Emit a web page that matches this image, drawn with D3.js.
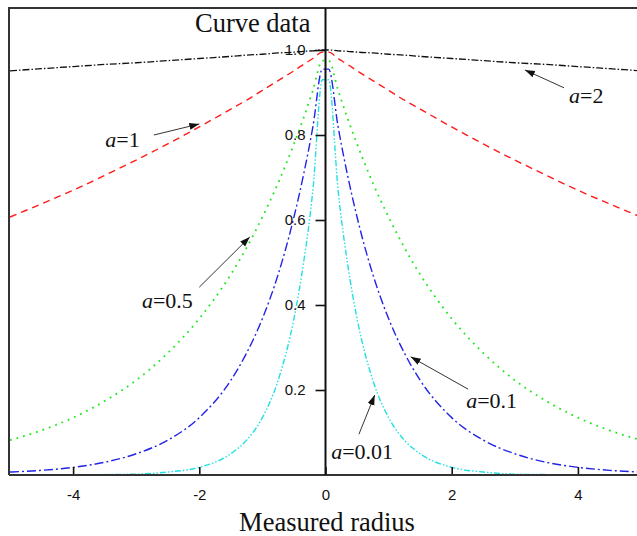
<!DOCTYPE html>
<html>
<head>
<meta charset="utf-8">
<script src="https://cdn.jsdelivr.net/npm/d3@7"></script>
<style>
  html, body { margin: 0; padding: 0; background: #fff; }
  .title { font-family: "Liberation Serif", "Times New Roman", serif; font-size: 26.5px; fill: #111; }
  .note { font-family: "Liberation Serif", "Times New Roman", serif; font-size: 22px; fill: #111; }
</style>
</head>
<body>
<div id="chart"></div>
<script>
// sample positions along the radius
const radius = [-5, -4.5, -4, -3.5, -3, -2.5, -2, -1.5, -1.25, -1, -0.75, -0.5, -0.35, -0.2, -0.05,
                0.05, 0.2, 0.35, 0.5, 0.75, 1, 1.25, 1.5, 2, 2.5, 3, 3.5, 4, 4.5, 5]

// values, one array per curve
const curveA2 = [0.951, 0.956, 0.961, 0.966, 0.970, 0.975, 0.980, 0.985, 0.988, 0.990, 0.993, 0.995, 0.997, 0.998, 1.0,
                 1.0, 0.998, 0.997, 0.995, 0.993, 0.990, 0.988, 0.985, 0.980, 0.975, 0.970, 0.966, 0.961, 0.956, 0.951]
const curveA1 = [0.607, 0.638, 0.670, 0.705, 0.741, 0.779, 0.819, 0.861, 0.882, 0.905, 0.928, 0.951, 0.966, 0.980, 0.995,
                 0.995, 0.980, 0.966, 0.951, 0.928, 0.905, 0.882, 0.861, 0.819, 0.779, 0.741, 0.705, 0.670, 0.638, 0.607]
const curveA05 = [0.082, 0.105, 0.135, 0.174, 0.223, 0.287, 0.368, 0.472, 0.535, 0.607, 0.687, 0.779, 0.839, 0.905, 0.975,
                  0.975, 0.905, 0.839, 0.779, 0.687, 0.607, 0.535, 0.472, 0.368, 0.287, 0.223, 0.174, 0.135, 0.105, 0.082]
const curveA01 = [0.007, 0.011, 0.018, 0.030, 0.050, 0.082, 0.135, 0.223, 0.287, 0.368, 0.472, 0.607, 0.705, 0.819, 0.955,
                  0.955, 0.819, 0.705, 0.607, 0.472, 0.368, 0.287, 0.223, 0.135, 0.082, 0.050, 0.030, 0.018, 0.011, 0.007]
const curveA001 = [0.000, 0.000, 0.000, 0.001, 0.002, 0.007, 0.018, 0.050, 0.082, 0.135, 0.223, 0.368, 0.497, 0.670, 0.930,
                   0.930, 0.670, 0.497, 0.368, 0.223, 0.135, 0.082, 0.050, 0.018, 0.007, 0.002, 0.001, 0.000, 0.000, 0.000]

const xTicks = [-4, -2, 0, 2, 4]
const yTicks = [0.2, 0.4, 0.6, 0.8, 1.0]

const width = 637
const height = 536
const frame = {left: 9, top: 8, right: 641, bottom: 475}

const svg = d3.select('#chart')
.append('svg')
.attr('width', width)
.attr('height', height)

const x = d3.scaleLinear()
.domain([-5, 5])
.range([10, 641])

const y = d3.scaleLinear()
.domain([0, 1])
.range([475, 50])

const series = [
  {label: 'a=2', values: curveA2, colour: '#111', dash: '7,2,1.5,2', w: 1.3},
  {label: 'a=1', values: curveA1, colour: '#ff1a1a', dash: '7,5', w: 1.4},
  {label: 'a=0.5', values: curveA05, colour: '#1ee81e', dash: '1.8,5', w: 1.8},
  {label: 'a=0.1', values: curveA01, colour: '#2323e8', dash: '9,3,2,3', w: 1.4},
  {label: 'a=0.01', values: curveA001, colour: '#22e0e0', dash: '6,2,1.5,2,1.5,2', w: 1.4}
]

svg.append('clipPath').attr('id', 'clip')
.append('rect')
.attr('x', frame.left).attr('y', frame.top)
.attr('width', frame.right - frame.left).attr('height', frame.bottom - frame.top)

const line = d3.line()
.x((d, i) => x(radius[i]))
.y(d => y(d))
.curve(d3.curveMonotoneX)

// frame
svg.append('path')
.attr('d', `M${frame.left},${frame.bottom}V${frame.top}H${frame.right}`)
.attr('fill', 'none')
.attr('stroke', '#333')
.attr('stroke-width', 2)

const graph = svg.append('g').attr('clip-path', 'url(#clip)')

graph.selectAll('path')
.data(series)
.enter()
.append('path')
.attr('d', d => line(d.values))
.attr('fill', 'none')
.attr('stroke', d => d.colour)
.attr('stroke-width', d => d.w)
.attr('stroke-dasharray', d => d.dash)

// axes crossing at the origin
const xAxis = svg.append('g')
.attr('transform', `translate(0,${y(0)})`)
.call(d3.axisBottom(x).tickValues(xTicks).tickSizeInner(-8).tickSizeOuter(0).tickPadding(14).tickFormat(d3.format('d')))
xAxis.select('.domain').remove()
xAxis.selectAll('.tick text').text(d => d < 0 ? '-' + Math.abs(d) : d)

const yAxis = svg.append('g')
.attr('transform', `translate(${x(0)},0)`)
.call(d3.axisLeft(y).tickValues(yTicks).tickSize(10).tickPadding(10).tickFormat(d3.format('.1f')))
yAxis.select('.domain').remove()

svg.selectAll('.tick line').attr('stroke', '#111').attr('stroke-width', 1.6)
svg.selectAll('.tick text')
.attr('font-family', '"Liberation Sans", Arial, sans-serif')
.attr('font-size', 15)
.attr('fill', '#111')

svg.append('line')
.attr('x1', frame.left).attr('x2', frame.right)
.attr('y1', y(0)).attr('y2', y(0))
.attr('stroke', '#333').attr('stroke-width', 2)

svg.append('line')
.attr('x1', x(0)).attr('x2', x(0))
.attr('y1', frame.top).attr('y2', frame.bottom)
.attr('stroke', '#111').attr('stroke-width', 2)

// titles
svg.append('text').attr('class', 'title')
.attr('x', x(0) - 15).attr('y', 32)
.attr('text-anchor', 'end')
.text('Curve data')

svg.append('text').attr('class', 'title')
.attr('x', 327).attr('y', 531)
.attr('text-anchor', 'middle')
.text('Measured radius')

// annotations, placed in data units
const notes = [
  {a: '1', tx: -3.49, ty: 0.772, x1: -2.72, y1: 0.80, x2: -2.0, y2: 0.826},
  {a: '2', tx: 3.86, ty: 0.875, x1: 3.78, y1: 0.911, x2: 3.16, y2: 0.953},
  {a: '0.5', tx: -2.91, ty: 0.393, x1: -2.0, y1: 0.442, x2: -1.2, y2: 0.56},
  {a: '0.1', tx: 2.23, ty: 0.158, x1: 2.26, y1: 0.202, x2: 1.35, y2: 0.278},
  {a: '0.01', tx: 0.09, ty: 0.038, x1: 0.53, y1: 0.096, x2: 0.78, y2: 0.188}
]

svg.append('defs').append('marker')
.attr('id', 'head')
.attr('viewBox', '0 0 10 10')
.attr('refX', 10).attr('refY', 5)
.attr('markerWidth', 10).attr('markerHeight', 10)
.attr('markerUnits', 'userSpaceOnUse')
.attr('orient', 'auto')
.append('path')
.attr('d', 'M0,1.5L10,5L0,8.5Z')
.attr('fill', '#111')

notes.forEach(n => {
  svg.append('line')
  .attr('x1', x(n.x1)).attr('y1', y(n.y1))
  .attr('x2', x(n.x2)).attr('y2', y(n.y2))
  .attr('stroke', '#333').attr('stroke-width', 1)
  .attr('marker-end', 'url(#head)')

  const t = svg.append('text').attr('class', 'note')
  .attr('x', x(n.tx)).attr('y', y(n.ty))
  t.append('tspan').attr('font-style', 'italic').text('a')
  t.append('tspan').text('=' + n.a)
})
</script>
</body>
</html>
